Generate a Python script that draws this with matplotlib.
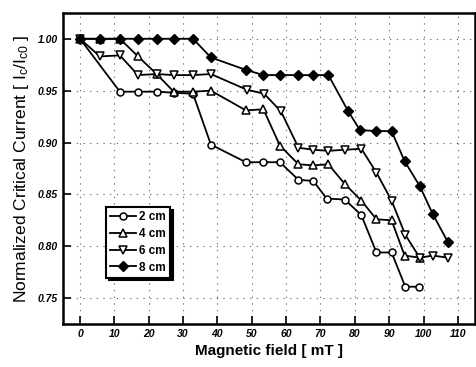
import numpy as np
import matplotlib.pyplot as plt
from matplotlib.ticker import MultipleLocator, FormatStrFormatter

plt.rcParams['font.family'] = ['Liberation Sans', 'DejaVu Sans']
plt.rcParams['mathtext.default'] = 'regular'

# 2 cm (open circles)
x2 = [0, 11.6, 16.9, 22.3, 27.3, 32.9, 38.1, 48.3, 53.4, 58.2, 63.6, 67.9, 71.8, 77.1, 81.9, 86.3, 90.7, 94.7, 98.6]
y2 = [1.000, 0.949, 0.949, 0.949, 0.948, 0.947, 0.898, 0.881, 0.881, 0.881, 0.864, 0.863, 0.846, 0.845, 0.830, 0.794, 0.794, 0.761, 0.761]
# 4 cm (up triangles)
x4 = [0, 5.8, 11.6, 16.9, 22.3, 27.3, 32.9, 38.1, 48.3, 53.4, 58.2, 63.6, 67.9, 72.3, 77.1, 81.9, 86.3, 90.7, 94.5, 98.9]
y4 = [1.000, 1.000, 1.000, 0.983, 0.966, 0.949, 0.949, 0.950, 0.931, 0.932, 0.897, 0.879, 0.878, 0.879, 0.860, 0.844, 0.826, 0.825, 0.791, 0.789]
# 6 cm (down triangles)
x6 = [0, 5.8, 11.6, 16.9, 22.3, 27.3, 32.9, 38.1, 48.5, 53.6, 58.5, 63.6, 67.9, 72.3, 77.1, 81.9, 86.3, 90.7, 94.7, 98.9, 102.7, 107.1]
y6 = [1.000, 0.983, 0.984, 0.965, 0.966, 0.965, 0.965, 0.966, 0.951, 0.947, 0.930, 0.895, 0.893, 0.892, 0.893, 0.894, 0.871, 0.844, 0.811, 0.789, 0.791, 0.789]
# 8 cm (filled diamonds)
x8 = [0, 5.8, 11.6, 16.9, 22.3, 27.3, 32.9, 38.1, 48.3, 53.4, 58.2, 63.6, 67.9, 72.3, 78.1, 81.5, 86.3, 90.7, 94.5, 98.9, 102.7, 107.1]
y8 = [1.000, 1.000, 1.000, 1.000, 1.000, 1.000, 1.000, 0.982, 0.970, 0.965, 0.965, 0.965, 0.965, 0.965, 0.930, 0.912, 0.911, 0.911, 0.882, 0.858, 0.831, 0.804]

fig = plt.figure(figsize=(4.76, 3.67), dpi=100)
ax = fig.add_axes([0.132, 0.117, 0.866, 0.848])

ax.plot(x2, y2, color='k', lw=1.3, marker='o', ms=5, mfc='white', mec='k', mew=1.1, label='2 cm')
ax.plot(x4, y4, color='k', lw=1.3, marker='^', ms=6, mfc='white', mec='k', mew=1.1, label='4 cm')
ax.plot(x6, y6, color='k', lw=1.3, marker='v', ms=6, mfc='white', mec='k', mew=1.1, label='6 cm')
ax.plot(x8, y8, color='k', lw=1.3, marker='D', ms=5, mfc='k', mec='k', label='8 cm')

ax.set_xlim(-5, 115)
ax.set_ylim(0.725, 1.025)
ax.xaxis.set_major_locator(MultipleLocator(10))
ax.yaxis.set_major_locator(MultipleLocator(0.05))
ax.yaxis.set_major_formatter(FormatStrFormatter('%.2f'))
ax.grid(True, color='0.35', ls=(0, (1, 5)), lw=0.8)
ax.tick_params(direction='in', length=6, width=1.2, labelsize=7.5)
for lab in ax.get_xticklabels() + ax.get_yticklabels():
    lab.set_fontweight('bold')
    lab.set_fontstyle('italic')
for s in ax.spines.values():
    s.set_linewidth(1.8)

ax.set_xlabel('Magnetic field [ mT ]', fontsize=11, fontweight='bold', labelpad=4)
ax.set_ylabel('Normalized Critical Current [ I$_c$/I$_{c0}$ ]', fontsize=12.5, labelpad=5)

leg = ax.legend(loc='lower left', bbox_to_anchor=(0.09, 0.13), frameon=True, fancybox=False,
                edgecolor='k', shadow={'color': 'k', 'alpha': 1}, handlelength=2.2,
                handletextpad=0.3, borderpad=0.35, labelspacing=0.4,
                prop={'weight': 'bold', 'size': 8.5})
leg.get_frame().set_linewidth(1.5)

plt.savefig('out.png', dpi=100)
